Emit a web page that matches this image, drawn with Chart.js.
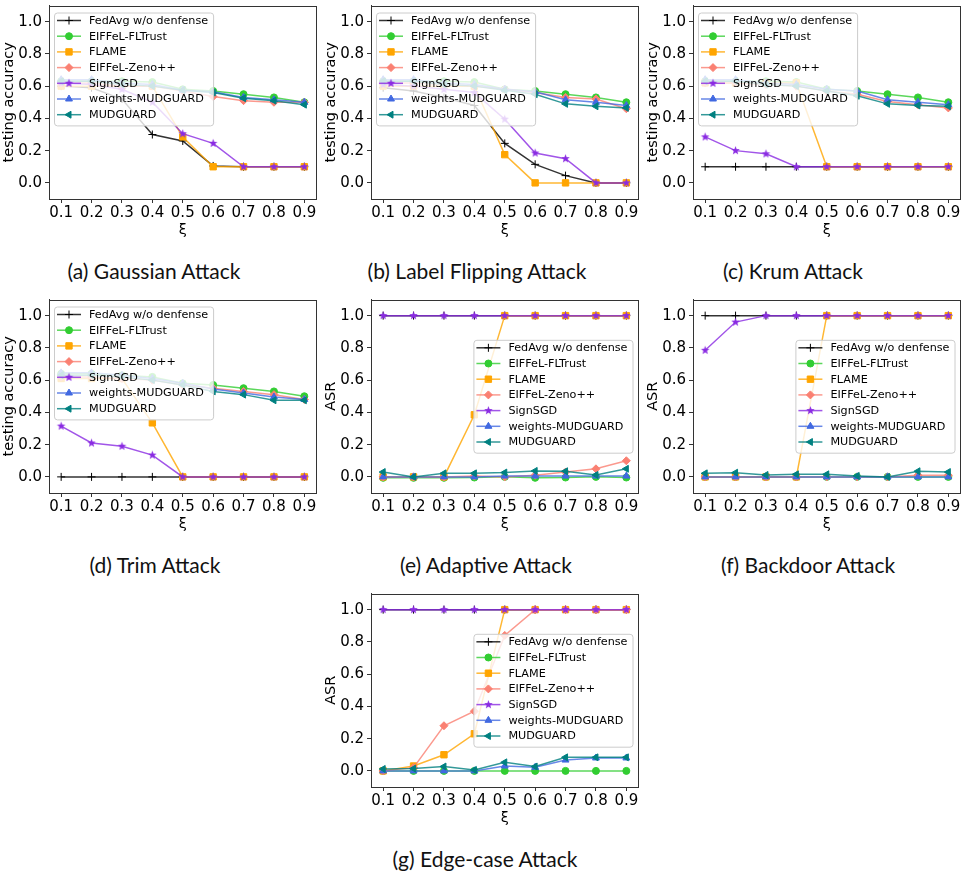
<!DOCTYPE html>
<html><head><meta charset="utf-8">
<script src="https://cdn.jsdelivr.net/npm/chart.js@4"></script>
<style>
body{margin:0;background:#fff;}
#fig{position:relative;width:966px;height:877px;background:#fff;overflow:hidden;}
#fig canvas{position:absolute;}
.cap{position:absolute;font-family:Lato,"Open Sans",sans-serif;font-size:21px;line-height:26px;color:#111;white-space:nowrap;transform:translateX(-50%);}
</style></head><body><div id="fig"></div>
<script>
// ---- data ----
const xi = [0.1,0.2,0.3,0.4,0.5,0.6,0.7,0.8,0.9];
const yTicks = [0,0.2,0.4,0.6,0.8,1.0];
const seriesNames = ['FedAvg w/o denfense','EIFFeL-FLTrust','FLAME','EIFFeL-Zeno++','SignSGD','weights-MUDGUARD','MUDGUARD'];

const gaussianAcc = [
  [0.60,0.59,0.52,0.30,0.26,0.105,0.10,0.10,0.10],
  [0.63,0.63,0.63,0.625,0.58,0.57,0.55,0.53,0.50],
  [0.60,0.60,0.60,0.60,0.285,0.10,0.10,0.10,0.10],
  [0.62,0.62,0.60,0.60,0.57,0.535,0.51,0.50,0.50],
  [0.62,0.61,0.58,0.50,0.305,0.245,0.10,0.10,0.10],
  [0.64,0.64,0.62,0.61,0.575,0.565,0.53,0.515,0.50],
  [0.63,0.63,0.61,0.60,0.575,0.56,0.525,0.51,0.485]
];
const labelFlipAcc = [
  [0.59,0.57,0.53,0.48,0.245,0.115,0.045,0.0,0.0],
  [0.63,0.63,0.63,0.625,0.58,0.57,0.55,0.53,0.50],
  [0.60,0.60,0.60,0.60,0.175,0.0,0.0,0.0,0.0],
  [0.62,0.62,0.61,0.60,0.58,0.56,0.53,0.52,0.46],
  [0.61,0.60,0.58,0.56,0.395,0.185,0.15,0.0,0.0],
  [0.64,0.64,0.62,0.61,0.58,0.565,0.515,0.50,0.48],
  [0.63,0.63,0.61,0.60,0.575,0.55,0.49,0.475,0.465]
];
const krumAcc = [
  [0.10,0.10,0.10,0.10,0.10,0.10,0.10,0.10,0.10],
  [0.63,0.63,0.63,0.625,0.58,0.57,0.55,0.53,0.50],
  [0.62,0.62,0.62,0.62,0.10,0.10,0.10,0.10,0.10],
  [0.62,0.62,0.61,0.60,0.57,0.55,0.505,0.485,0.465],
  [0.285,0.20,0.18,0.10,0.10,0.10,0.10,0.10,0.10],
  [0.64,0.64,0.62,0.61,0.58,0.57,0.515,0.50,0.485],
  [0.63,0.63,0.61,0.60,0.57,0.54,0.49,0.48,0.475]
];
const trimAcc = [
  [0,0,0,0,0,0,0,0,0],
  [0.64,0.64,0.63,0.62,0.58,0.57,0.55,0.53,0.50],
  [0.61,0.61,0.61,0.335,0,0,0,0,0],
  [0.62,0.62,0.61,0.60,0.57,0.55,0.53,0.51,0.48],
  [0.315,0.21,0.19,0.135,0,0,0,0,0],
  [0.645,0.645,0.63,0.61,0.58,0.545,0.52,0.495,0.48],
  [0.63,0.63,0.62,0.60,0.57,0.53,0.51,0.475,0.475]
];
const adaptiveAsr = [
  [1,1,1,1,1,1,1,1,1],
  [-0.006,-0.006,-0.006,-0.004,0.0,-0.006,-0.004,0.0,-0.004],
  [0,0,0,0.385,1,1,1,1,1],
  [0,0,0,0.005,0,0.01,0.03,0.05,0.10],
  [1,1,1,1,1,1,1,1,1],
  [0,0,0,0,0.005,0.005,0.005,0.005,0.005],
  [0.03,0.0,0.022,0.022,0.027,0.037,0.035,0.012,0.05]
];
const backdoorAsr = [
  [1,1,1,1,1,1,1,1,1],
  [0,0,0,0,0,0,0,0,0],
  [0,0,0,0,1,1,1,1,1],
  [0,0,0,0,0,0,0,0.01,0.01],
  [0.785,0.96,1,1,1,1,1,1,1],
  [0,0,0,0,0,0,0,0,0],
  [0.022,0.026,0.012,0.016,0.016,0.006,0.0,0.035,0.03]
];
const edgeCaseAsr = [
  [1,1,1,1,1,1,1,1,1],
  [0,0,0,0,0,0,0,0,0],
  [0,0.03,0.10,0.23,1,1,1,1,1],
  [0,0.02,0.28,0.37,0.84,1,1,1,1],
  [1,1,1,1,1,1,1,1,1],
  [0,0,0,0,0.03,0.022,0.067,0.08,0.08],
  [0.012,0.014,0.027,0.006,0.053,0.027,0.084,0.084,0.084]
];

// ---- styles ----
const seriesColors = ['#000000','#32CD32','#FFA500','#FA8072','#8A2BE2','#4169E1','#008080'];
const pointStyles = ['cross','circle','rect','rectRot','star','triangle','triangle'];
const pointRots = [0,0,0,0,0,0,-90];
const pointRadii = [4,3.5,4.5,4,4.5,4,4];

function alpha(hex,a){const n=parseInt(hex.slice(1),16);return `rgba(${n>>16&255},${n>>8&255},${n&255},${a})`;}

function makeStar(color, r){
  const s = Math.ceil(2*r+2);
  const c = document.createElement('canvas'); c.width = s; c.height = s;
  const g = c.getContext('2d');
  g.fillStyle = color; g.beginPath();
  for (let k=0;k<10;k++){
    const rr = k%2===0 ? r : r*0.42;
    const a = -Math.PI/2 + k*Math.PI/5;
    const px = s/2 + rr*Math.cos(a), py = s/2 + rr*Math.sin(a);
    if (k===0) g.moveTo(px,py); else g.lineTo(px,py);
  }
  g.closePath(); g.fill();
  return c;
}

const frame = {
  id:'frame',
  afterDatasetsDraw(chart){
    const {ctx, chartArea:ca} = chart;
    ctx.save(); ctx.strokeStyle='#333'; ctx.lineWidth=1;
    ctx.strokeRect(Math.round(ca.left)+0.5, Math.round(ca.top)+0.5, Math.round(ca.right-ca.left)-1, Math.round(ca.bottom-ca.top)-1);
    ctx.restore();
  }
};

const mplLegend = {
  id:'mplLegend',
  afterDraw(chart, args, opts){
    const {ctx, chartArea:ca} = chart;
    const ds = chart.data.datasets;
    ctx.save();
    ctx.font = '11.2px "DejaVu Sans"';
    const tw = Math.max(...ds.map(d=>ctx.measureText(d.label).width));
    const rowH = 15.7;
    const w = 35 + tw + 5, h = ds.length*rowH + 3;
    let left, top;
    if (opts.pos === 'ul') { left = ca.left + 5; top = ca.top + 7; }
    else { left = ca.right - 6 - w; top = (ca.top+ca.bottom)/2 - h/2; }
    ctx.beginPath();
    if (ctx.roundRect) ctx.roundRect(left+0.5, top+0.5, w, h, 3); else ctx.rect(left+0.5, top+0.5, w, h);
    ctx.fillStyle = 'rgba(255,255,255,0.8)'; ctx.fill();
    ctx.strokeStyle = '#cccccc'; ctx.lineWidth = 1; ctx.stroke();
    ds.forEach((d,i)=>{
      const y = top + 8 + i*rowH;
      ctx.strokeStyle = d.borderColor; ctx.lineWidth = 1.5;
      ctx.beginPath(); ctx.moveTo(left+3, y); ctx.lineTo(left+27, y); ctx.stroke();
      ctx.fillStyle = d.pointBackgroundColor; ctx.strokeStyle = d.pointBorderColor; ctx.lineWidth = 1;
      Chart.helpers.drawPoint(ctx, {pointStyle:d.pointStyle, rotation:d.pointRotation, radius:d.pointRadius, borderWidth:1}, left+15, y);
      ctx.fillStyle = '#000'; ctx.textBaseline = 'middle'; ctx.textAlign = 'left';
      ctx.fillText(d.label, left+35, y+0.5);
    });
    ctx.restore();
  }
};

const tickFont = {family:'"DejaVu Sans"', size:15};
const titleFont = {family:'"DejaVu Sans"', size:14.5};

const panels = [
  {data:gaussianAcc, yTitle:'testing accuracy', legend:'ul', left:0,   top:0,   cap:'(a) Gaussian Attack',      capX:154, capY:271},
  {data:labelFlipAcc, yTitle:'testing accuracy', legend:'ul', left:322, top:0,  cap:'(b) Label Flipping Attack', capX:477, capY:271},
  {data:krumAcc, yTitle:'testing accuracy', legend:'ul', left:644, top:0,       cap:'(c) Krum Attack',          capX:793, capY:271},
  {data:trimAcc, yTitle:'testing accuracy', legend:'ul', left:0,   top:294,     cap:'(d) Trim Attack',          capX:155, capY:565},
  {data:adaptiveAsr, yTitle:'ASR', legend:'r', left:322, top:294,               cap:'(e) Adaptive Attack',      capX:486, capY:565},
  {data:backdoorAsr, yTitle:'ASR', legend:'r', left:644, top:294,               cap:'(f) Backdoor Attack',      capX:808, capY:565},
  {data:edgeCaseAsr, yTitle:'ASR', legend:'r', left:322, top:588,               cap:'(g) Edge-case Attack',     capX:485, capY:859}
];

const starImg = makeStar(seriesColors[4], 4.5);

const fig = document.getElementById('fig');
panels.forEach(p=>{
  const cv = document.createElement('canvas');
  cv.width = 322; cv.height = 250;
  cv.style.left = p.left+'px'; cv.style.top = p.top+'px';
  cv.style.width = '322px'; cv.style.height = '250px';
  fig.appendChild(cv);
  const cap = document.createElement('div');
  cap.className = 'cap'; cap.textContent = p.cap;
  cap.style.left = p.capX+'px'; cap.style.top = (p.capY-13)+'px';
  fig.appendChild(cap);

  const datasets = p.data.map((vals,i)=>({
    label: seriesNames[i],
    data: vals.map((v,j)=>({x:xi[j], y:v})),
    borderColor: alpha(seriesColors[i],0.8),
    borderWidth: 1.5,
    pointStyle: pointStyles[i]==='star' ? starImg : pointStyles[i],
    pointRotation: pointRots[i],
    pointRadius: pointRadii[i],
    pointBackgroundColor: seriesColors[i],
    pointBorderColor: seriesColors[i],
    pointBorderWidth: 1,
    tension: 0,
    fill: false,
    order: seriesNames.length - i
  }));

  new Chart(cv, {
    type:'line',
    data:{datasets},
    options:{
      responsive:false, animation:false, devicePixelRatio:1,
      layout:{padding:{top:3,right:3,left:0,bottom:11}},
      plugins:{legend:{display:false}, tooltip:{enabled:false}, mplLegend:{pos:p.legend}},
      scales:{
        x:{type:'linear', min:0.06, max:0.94,
          afterBuildTicks:s=>{s.ticks = xi.map(v=>({value:v}));},
          afterFit:s=>{s.height = 40; s.paddingLeft = 0; s.paddingRight = 0;},
          ticks:{callback:v=>v.toFixed(1), font:tickFont, color:'#000', padding:1, maxRotation:0, autoSkip:false},
          grid:{drawOnChartArea:false, tickLength:4, color:'#333'},
          border:{color:'#333'},
          title:{display:true, text:'ξ', font:titleFont, color:'#000', padding:{top:0,bottom:0}}
        },
        y:{type:'linear', min:-0.1, max:1.1,
          afterBuildTicks:s=>{s.ticks = yTicks.map(v=>({value:v}));},
          afterFit:s=>{s.width = 49; s.paddingTop = 0; s.paddingBottom = 0;},
          ticks:{callback:v=>v.toFixed(1), font:tickFont, color:'#000', padding:3, autoSkip:false},
          grid:{drawOnChartArea:false, tickLength:4, color:'#333'},
          border:{color:'#333'},
          title:{display:true, text:p.yTitle, font:titleFont, color:'#000', padding:{top:1,bottom:0}}
        }
      }
    },
    plugins:[frame, mplLegend]
  });
});
</script>
</body></html>
